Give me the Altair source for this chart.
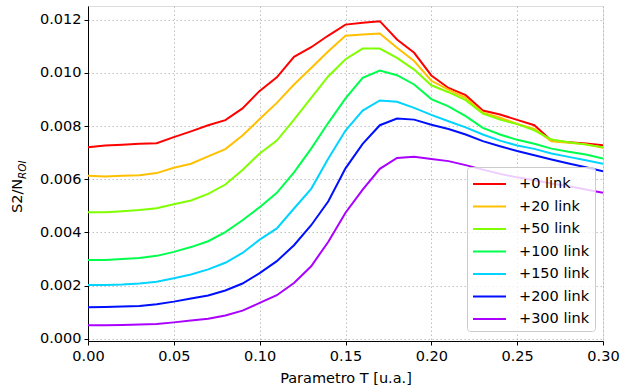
import altair as alt
import pandas as pd

t_vals = [0.00, 0.01, 0.02, 0.03, 0.04, 0.05, 0.06, 0.07, 0.08, 0.09, 0.10,
          0.11, 0.12, 0.13, 0.14, 0.15, 0.16, 0.17, 0.18, 0.19, 0.20,
          0.21, 0.22, 0.23, 0.24, 0.25, 0.26, 0.27, 0.28, 0.29, 0.30]

s_0 = [0.00720, 0.00727, 0.00730, 0.00733, 0.00735, 0.00758, 0.00780, 0.00803, 0.00822, 0.00866, 0.00932,
       0.00983, 0.01060, 0.01096, 0.01140, 0.01181, 0.01188, 0.01194, 0.01125, 0.01075, 0.00990,
       0.00943, 0.00916, 0.00858, 0.00843, 0.00823, 0.00803, 0.00745, 0.00739, 0.00734, 0.00728]
s_20 = [0.00613, 0.00610, 0.00613, 0.00615, 0.00623, 0.00643, 0.00658, 0.00686, 0.00713, 0.00764, 0.00826,
        0.00887, 0.00956, 0.01018, 0.01081, 0.01139, 0.01144, 0.01148, 0.01094, 0.01044, 0.00970,
        0.00937, 0.00906, 0.00850, 0.00831, 0.00808, 0.00789, 0.00743, 0.00737, 0.00731, 0.00718]
s_50 = [0.00476, 0.00476, 0.00480, 0.00484, 0.00491, 0.00506, 0.00520, 0.00545, 0.00580, 0.00635, 0.00697,
        0.00745, 0.00824, 0.00906, 0.00987, 0.01051, 0.01091, 0.01091, 0.01056, 0.01012, 0.00953,
        0.00927, 0.00897, 0.00847, 0.00824, 0.00807, 0.00784, 0.00749, 0.00739, 0.00730, 0.00720]
s_100 = [0.00296, 0.00296, 0.00300, 0.00304, 0.00312, 0.00327, 0.00345, 0.00367, 0.00401, 0.00446, 0.00495,
         0.00549, 0.00626, 0.00715, 0.00812, 0.00904, 0.00981, 0.01008, 0.00991, 0.00956, 0.00901,
         0.00874, 0.00837, 0.00793, 0.00768, 0.00748, 0.00733, 0.00715, 0.00703, 0.00693, 0.00678]
s_150 = [0.00202, 0.00202, 0.00204, 0.00208, 0.00215, 0.00228, 0.00242, 0.00261, 0.00286, 0.00323, 0.00373,
         0.00415, 0.00490, 0.00564, 0.00678, 0.00783, 0.00858, 0.00896, 0.00891, 0.00868, 0.00842,
         0.00818, 0.00795, 0.00768, 0.00745, 0.00727, 0.00714, 0.00697, 0.00684, 0.00671, 0.00658]
s_200 = [0.00119, 0.00120, 0.00122, 0.00124, 0.00130, 0.00140, 0.00152, 0.00163, 0.00182, 0.00208, 0.00247,
         0.00292, 0.00352, 0.00427, 0.00517, 0.00641, 0.00733, 0.00803, 0.00828, 0.00824, 0.00805,
         0.00789, 0.00768, 0.00743, 0.00724, 0.00706, 0.00690, 0.00674, 0.00659, 0.00645, 0.00630]
s_300 = [0.00051, 0.00051, 0.00052, 0.00054, 0.00056, 0.00062, 0.00069, 0.00076, 0.00088, 0.00106, 0.00135,
         0.00164, 0.00210, 0.00273, 0.00365, 0.00474, 0.00561, 0.00639, 0.00680, 0.00684, 0.00676,
         0.00668, 0.00653, 0.00636, 0.00620, 0.00607, 0.00596, 0.00584, 0.00574, 0.00561, 0.00549]

series_names = ["+0 link", "+20 link", "+50 link", "+100 link", "+150 link", "+200 link", "+300 link"]
series_values = [s_0, s_20, s_50, s_100, s_150, s_200, s_300]
series_colors = ["#ff0000", "#ffc000", "#80ff00", "#00ff4c", "#00d4ff", "#0010ff", "#aa00ff"]

x_ticks = [0.00, 0.05, 0.10, 0.15, 0.20, 0.25, 0.30]
y_ticks = [0.000, 0.002, 0.004, 0.006, 0.008, 0.010, 0.012]

rows = []
for k, (name, vals) in enumerate(zip(series_names, series_values)):
    for t, v in zip(t_vals, vals):
        rows.append({"T": t, "S": v, "serie": name, "ord": k})
df = pd.DataFrame(rows)

FONT = "DejaVu Sans"
FS = 14.5

lines = alt.Chart(df).mark_line(strokeWidth=2, clip=True).encode(
    x=alt.X("T:Q",
            scale=alt.Scale(domain=[0, 0.30], nice=False, zero=False),
            axis=alt.Axis(values=x_ticks, format=".2f", title="Parametro T [u.a.]",
                          grid=True, gridDash=[1.5, 2.5], gridColor="#b0b0b0", gridWidth=0.8,
                          domainColor="black", domainWidth=1, tickColor="black", tickSize=4,
                          labelFont=FONT, labelFontSize=FS, labelColor="black", labelPadding=4,
                          titleFont=FONT, titleFontSize=FS, titleFontWeight="normal",
                          titleColor="black", titlePadding=9, labelFlush=False)),
    y=alt.Y("S:Q",
            scale=alt.Scale(domain=[-0.00008, 0.01251], nice=False, zero=False),
            axis=alt.Axis(values=y_ticks, format=".3f", title=None,
                          grid=True, gridDash=[1.5, 2.5], gridColor="#b0b0b0", gridWidth=0.8,
                          domainColor="black", domainWidth=1, tickColor="black", tickSize=4,
                          labelFont=FONT, labelFontSize=FS, labelColor="black", labelPadding=3)),
    color=alt.Color("serie:N",
                    scale=alt.Scale(domain=series_names, range=series_colors),
                    legend=alt.Legend(title=None, orient="none", legendX=379, legendY=161,
                                      symbolType="M-1,0L2,0", symbolSize=484, symbolStrokeWidth=2,
                                      labelFont=FONT, labelFontSize=FS, labelColor="black",
                                      labelOffset=23, rowPadding=3.5, padding=5,
                                      fillColor="rgba(255,255,255,0.8)", strokeColor="#cccccc",
                                      cornerRadius=3)),
    order=alt.Order("ord:Q"),
    detail="serie:N",
)

title_main = alt.Chart(pd.DataFrame({"t": ["S2/N"]})).mark_text(
    angle=270, align="left", baseline="middle", font=FONT, fontSize=FS, color="black"
).encode(text="t:N", x=alt.value(-70), y=alt.value(207))

title_sub = alt.Chart(pd.DataFrame({"t": ["ROI"]})).mark_text(
    angle=270, align="left", baseline="middle", font=FONT, fontSize=10.5, fontStyle="italic",
    color="black"
).encode(text="t:N", x=alt.value(-65), y=alt.value(173))

chart = alt.layer(lines, title_main, title_sub).properties(
    width=515, height=335,
    autosize=alt.AutoSizeParams(type="none"),
    padding={"left": 88, "top": 6, "right": 27, "bottom": 51},
).configure_view(stroke="black", strokeWidth=1).configure(background="white")

chart.save("out.html", embed_options={"renderer": "svg", "actions": False})
